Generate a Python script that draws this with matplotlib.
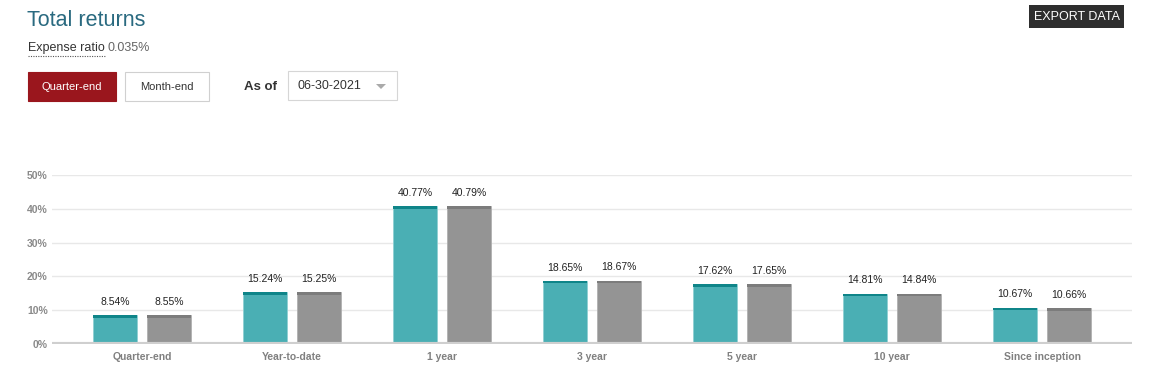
import matplotlib
matplotlib.use("Agg")
import matplotlib.pyplot as plt
from matplotlib.patches import Rectangle
import numpy as np

categories = ["Quarter-end", "Year-to-date", "1 year", "3 year", "5 year", "10 year", "Since inception"]
fund = [8.54, 15.24, 40.77, 18.65, 17.62, 14.81, 10.67]
benchmark = [8.55, 15.25, 40.79, 18.67, 17.65, 14.84, 10.66]
yticks = [0, 10, 20, 30, 40, 50]

plt.rcParams['font.family'] = ['Liberation Sans', 'DejaVu Sans']

W, H = 1155, 377
fig = plt.figure(figsize=(W / 100, H / 100), dpi=100)

def fx(px):
    return px / W

def fy(py):
    return 1 - py / H

# Header
fig.text(fx(27), fy(21), "Total returns", fontsize=15.5, color="#2a6a80", va="center", ha="left")
fig.text(fx(28), fy(48), "Expense ratio", fontsize=9, color="#333333", va="center", ha="left")
fig.add_artist(plt.Line2D([fx(28), fx(105)], [fy(56), fy(56)], color="#555555", lw=0.8,
                          linestyle=(0, (1, 1.2)), transform=fig.transFigure))
fig.text(fx(108), fy(48), "0.035%", fontsize=9, color="#666666", va="center", ha="left")

# Buttons
fig.add_artist(Rectangle((fx(28), fy(101)), fx(88), 29 / H, transform=fig.transFigure,
                         facecolor="#9a161d", edgecolor="#9a161d", lw=0.8))
fig.text(fx(72), fy(87), "Quarter-end", fontsize=8, color="white", va="center", ha="center")
fig.add_artist(Rectangle((fx(125), fy(101)), fx(84), 29 / H, transform=fig.transFigure,
                         facecolor="white", edgecolor="#d0d0d0", lw=0.8))
fig.text(fx(167), fy(87), "Month-end", fontsize=8, color="#333333", va="center", ha="center")
fig.text(fx(244), fy(87), "As of", fontsize=9.5, color="#333333", va="center", ha="left",
         fontweight="bold")
fig.add_artist(Rectangle((fx(288), fy(100)), fx(109), 29 / H, transform=fig.transFigure,
                         facecolor="white", edgecolor="#d6d6d6", lw=0.8))
fig.text(fx(298), fy(86), "06-30-2021", fontsize=9, color="#333333", va="center", ha="left")
fig.add_artist(plt.Polygon([[fx(376), fy(84)], [fx(386), fy(84)], [fx(381), fy(89)]],
                           closed=True, transform=fig.transFigure, facecolor="#aaaaaa",
                           edgecolor="none"))

# Export button
fig.add_artist(Rectangle((fx(1029), fy(28)), fx(95), 23 / H, transform=fig.transFigure,
                         facecolor="#2e2e2e", edgecolor="none"))
fig.text(fx(1076.5), fy(17), "EXPORT DATA", fontsize=9, color="white", va="center", ha="center")

# Chart axes
left, right = 52, 1132
bottom, top = 344, 175
ax = fig.add_axes([fx(left), fy(bottom), fx(right - left), (bottom - top) / H])

x = np.arange(len(categories))
spacing_px = 150.0
bw = 44 / spacing_px
off = 27 / spacing_px
ax.set_xlim(-0.5 - 15 / spacing_px, len(categories) - 0.5 + 15 / spacing_px)
ax.set_ylim(0, 50)

teal, teal_cap = "#4aafb4", "#0f8589"
gray, gray_cap = "#949494", "#7c7c7c"
cap_h = 0.75

for xi, v in zip(x, fund):
    ax.bar(xi - off, v, width=bw, color=teal, edgecolor="#8fd0d3", lw=0.6, zorder=3)
    ax.bar(xi - off, cap_h, bottom=v - cap_h, width=bw, color=teal_cap, lw=0, zorder=4)
    ax.text(xi - off, v + 2.5, f"{v:.2f}%", ha="center", va="bottom", fontsize=7.5, color="#222222")
for xi, v in zip(x, benchmark):
    ax.bar(xi + off, v, width=bw, color=gray, edgecolor="#b0b0b0", lw=0.6, zorder=3)
    ax.bar(xi + off, cap_h, bottom=v - cap_h, width=bw, color=gray_cap, lw=0, zorder=4)
    ax.text(xi + off, v + 2.5, f"{v:.2f}%", ha="center", va="bottom", fontsize=7.5, color="#222222")

ax.set_yticks(yticks)
ax.set_yticklabels([f"{t}%" for t in yticks], fontsize=7.5, color="#8a8a8a", fontweight="bold")
ax.set_xticks(x)
ax.set_xticklabels(categories, fontsize=7.5, color="#808080", fontweight="bold")
ax.tick_params(axis="both", length=0)
ax.tick_params(axis="y", pad=3)
ax.tick_params(axis="x", pad=6)
ax.grid(axis="y", color="#e8e8e8", lw=1, zorder=0)
ax.axhline(0, color="#cfcfcf", lw=3, zorder=5)
for s in ax.spines.values():
    s.set_visible(False)
ax.set_facecolor("none")

fig.savefig("out.png", dpi=100)
